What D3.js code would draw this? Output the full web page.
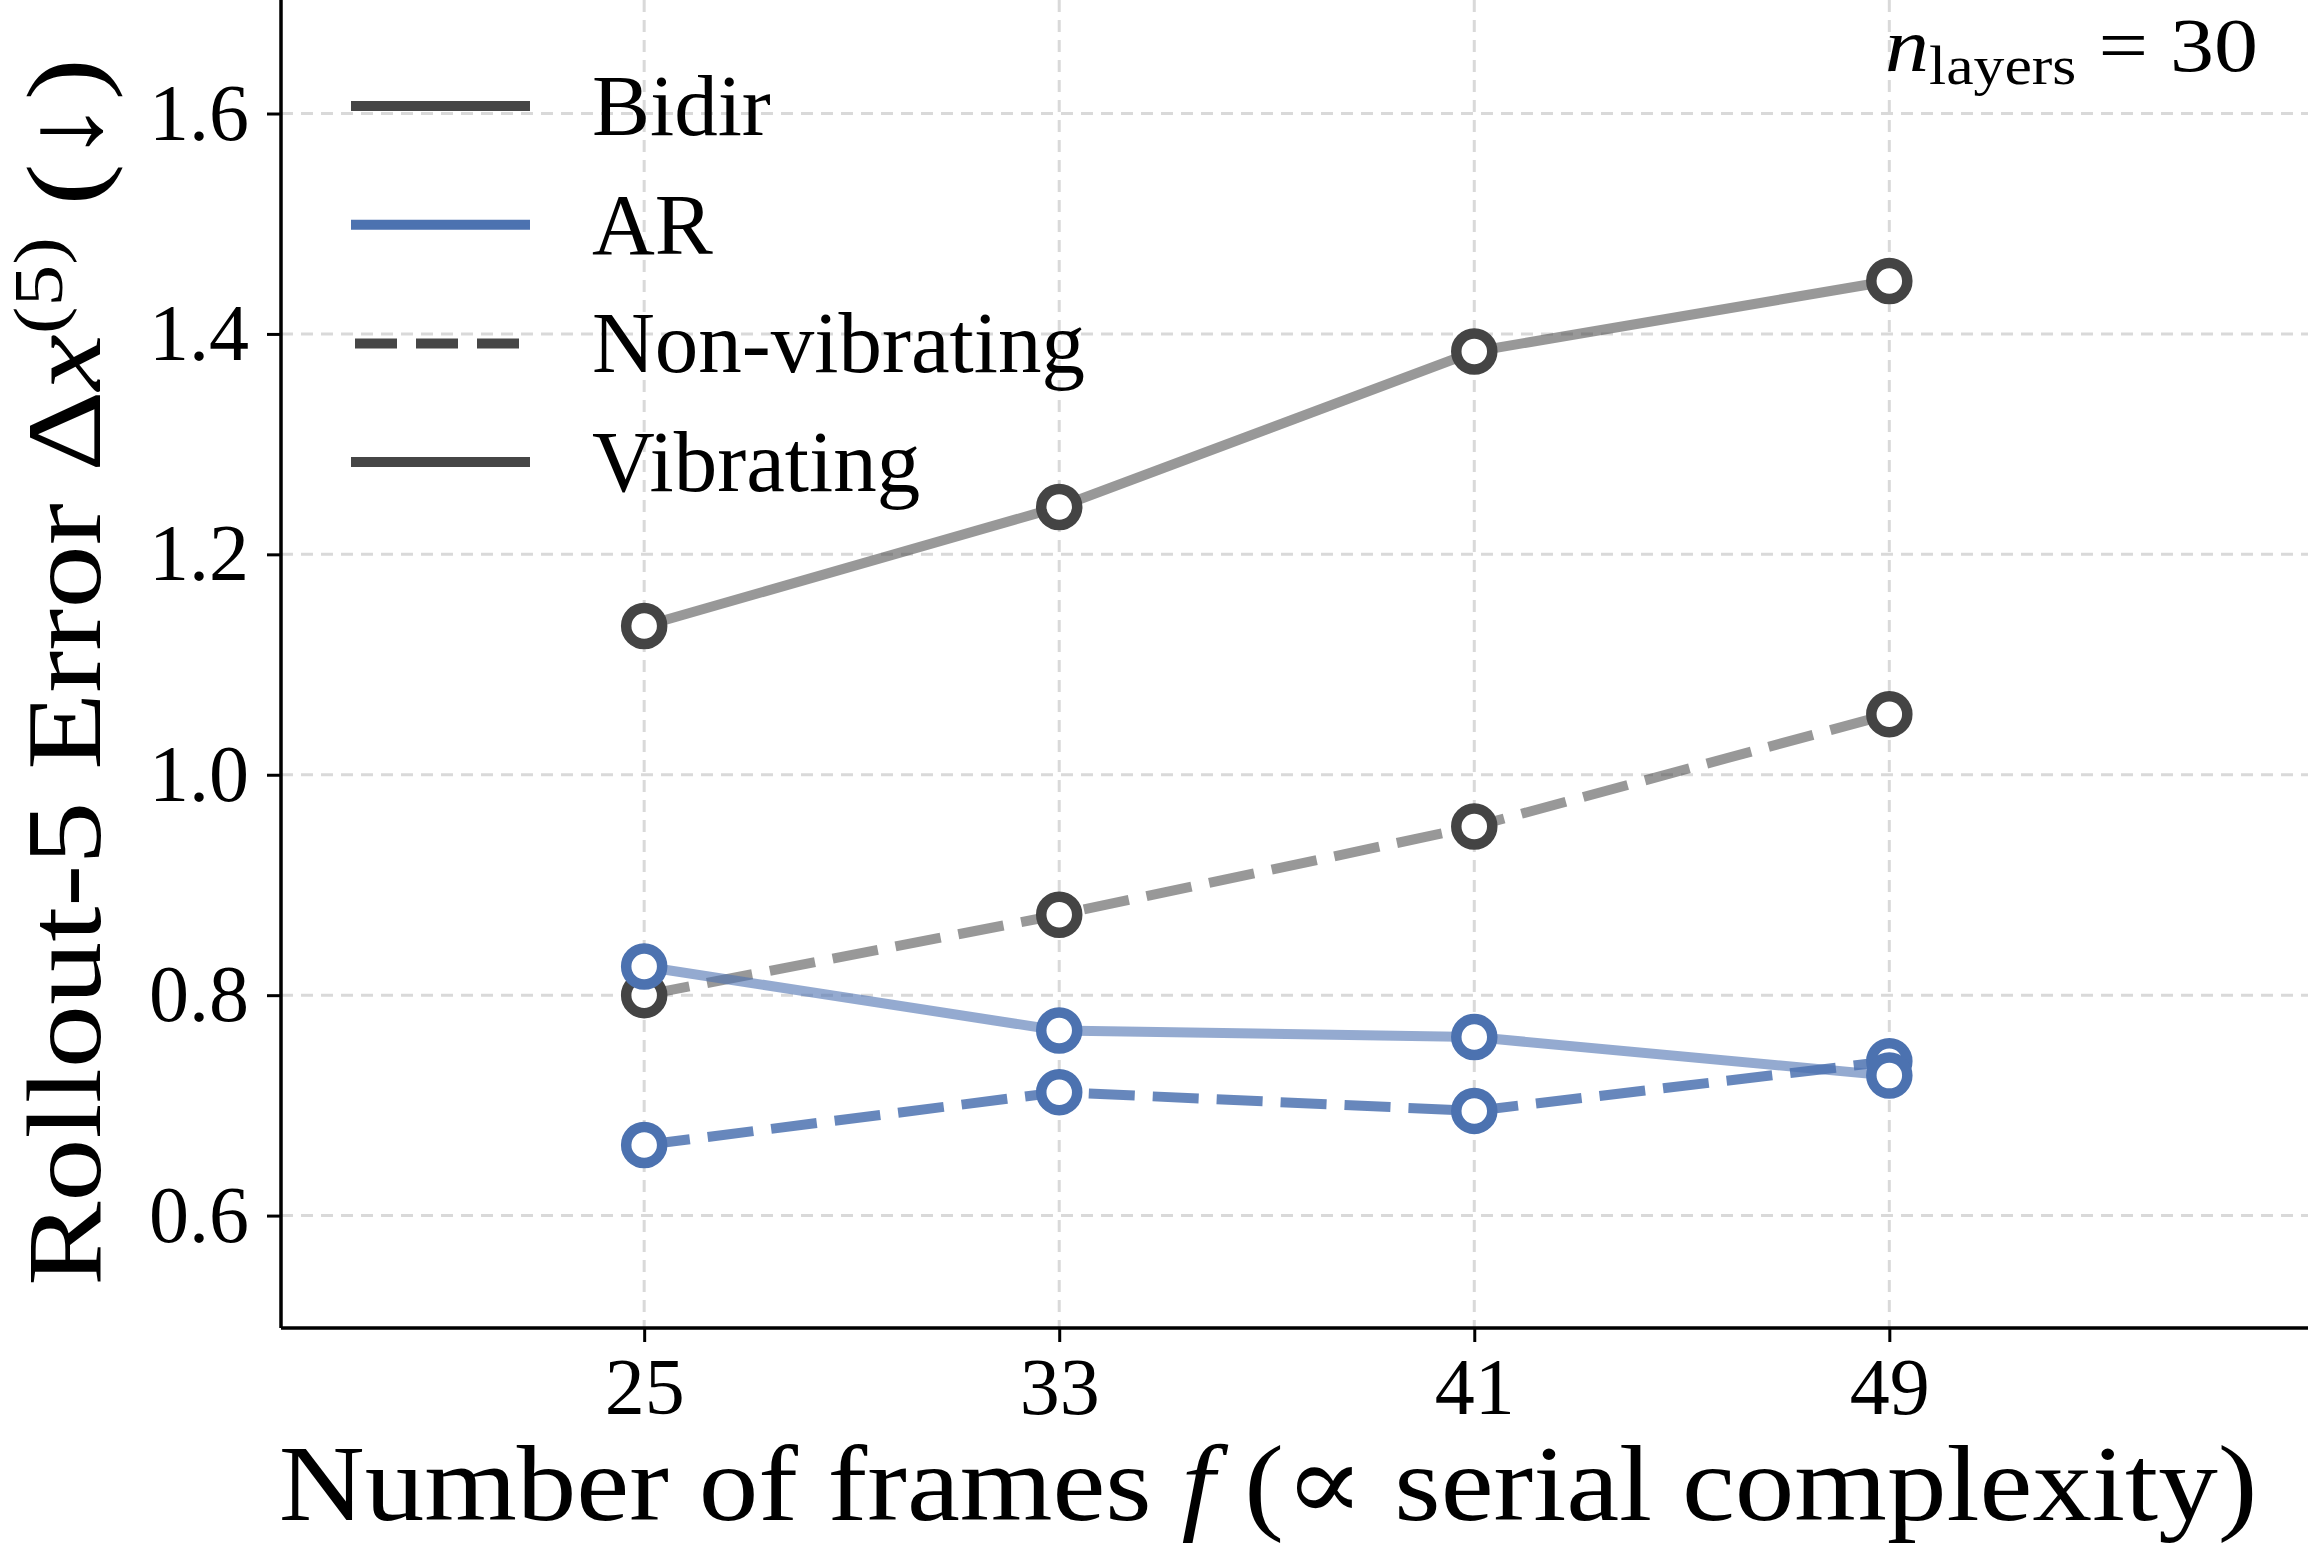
<!DOCTYPE html>
<html>
<head>
<meta charset="utf-8">
<script src="https://cdn.jsdelivr.net/npm/d3@7"></script>
<style>
  html, body { margin: 0; padding: 0; background: #fff; }
  svg { display: block; }
  text { font-family: "Liberation Serif", "DejaVu Serif", serif; fill: #000; }
</style>
</head>
<body>
<div id="chart"></div>
<script>
// Rollout-5 error vs number of frames (n_layers = 30)

const frames = [25, 33, 41, 49];
const bidirVibrating = [1.135, 1.243, 1.384, 1.448];
const bidirNonVibrating = [0.800, 0.873, 0.953, 1.055];
const arVibrating = [0.826, 0.768, 0.762, 0.727];
const arNonVibrating = [0.664, 0.712, 0.695, 0.740];

const yTicks = [0.6, 0.8, 1.0, 1.2, 1.4, 1.6];
const xTicks = [25, 33, 41, 49];
const legendLabels = ['Bidir', 'AR', 'Non-vibrating', 'Vibrating'];

const width = 2308;
const height = 1555;
const margin = { left: 281, top: 0, right: 0, bottom: 227 };

const svg = d3.select('#chart').append('svg')
    .attr('width', width)
    .attr('height', height);

const x = d3.scaleLinear()
    .domain([18, 57.07])
    .range([margin.left, width - margin.right]);

const y = d3.scaleLinear()
    .domain([0.498, 1.703])
    .range([height - margin.bottom, margin.top]);

const plotBottom = height - margin.bottom;

// grid
const grid = svg.append('g').attr('class', 'grid');
grid.selectAll('.hgrid')
    .data(yTicks)
    .enter()
    .append('line')
    .attr('x1', margin.left)
    .attr('x2', width)
    .attr('y1', d => y(d))
    .attr('y2', d => y(d))
    .attr('stroke', '#d9d9d9')
    .attr('stroke-width', 3)
    .attr('stroke-dasharray', '12,8');

grid.selectAll('.vgrid')
    .data(xTicks)
    .enter()
    .append('line')
    .attr('x1', d => x(d))
    .attr('x2', d => x(d))
    .attr('y1', 0)
    .attr('y2', plotBottom)
    .attr('stroke', '#d9d9d9')
    .attr('stroke-width', 3)
    .attr('stroke-dasharray', '12,8');

// series, drawn in matplotlib order
const series = [
    { values: bidirNonVibrating, color: '#444444', opacity: 0.55, dashed: true },
    { values: bidirVibrating, color: '#444444', opacity: 0.55, dashed: false },
    { values: arNonVibrating, color: '#4c72b0', opacity: 0.85, dashed: true },
    { values: arVibrating, color: '#4c72b0', opacity: 0.6, dashed: false }
];

const line = d3.line()
    .x((d, i) => x(frames[i]))
    .y(d => y(d));

series.forEach(s => {
    const g = svg.append('g');
    g.append('path')
        .attr('d', line(s.values))
        .attr('fill', 'none')
        .attr('stroke', s.color)
        .attr('stroke-opacity', s.opacity)
        .attr('stroke-width', 10)
        .attr('stroke-dasharray', s.dashed ? '46,18' : null);

    g.selectAll('circle')
        .data(s.values)
        .enter()
        .append('circle')
        .attr('cx', (d, i) => x(frames[i]))
        .attr('cy', d => y(d))
        .attr('r', 18)
        .attr('fill', '#fff')
        .attr('stroke', s.color)
        .attr('stroke-width', 10.5);
});

// axes
const xAxis = svg.append('g')
    .attr('transform', `translate(0, ${plotBottom})`)
    .call(d3.axisBottom(x).tickValues(xTicks).tickSize(14).tickPadding(0).tickFormat(d3.format('d')));

const yAxis = svg.append('g')
    .attr('transform', `translate(${margin.left}, 0)`)
    .call(d3.axisLeft(y).tickValues(yTicks).tickSize(14).tickPadding(18).tickFormat(d3.format('.1f')));

[xAxis, yAxis].forEach(ax => {
    ax.select('.domain').attr('stroke', '#000').attr('stroke-width', 3.5);
    ax.selectAll('.tick line').attr('stroke', '#000').attr('stroke-width', 3);
    ax.selectAll('.tick text')
        .attr('fill', '#000')
        .style('font-family', '"Liberation Serif", "DejaVu Serif", serif')
        .attr('font-size', 80);
});
xAxis.select('.domain').attr('d', `M${margin.left},0H${width}`);
yAxis.select('.domain').attr('d', `M0,${plotBottom}V0`);
xAxis.selectAll('.tick text').attr('y', 86).attr('dy', null);

// stretch a text horizontally (about its anchor) to match a target width
function fitWidth(textSel, target) {
    const w = textSel.node().getBBox().width;
    textSel.attr('transform', `scale(${target / w}, 1)`);
}

// x label
const xLabel = svg.append('g')
    .attr('transform', 'translate(1268, 1520)')
    .append('text')
    .attr('text-anchor', 'middle')
    .attr('font-size', 108);
xLabel.append('tspan').text('Number of frames ');
xLabel.append('tspan').attr('font-style', 'italic').text('f');
xLabel.append('tspan').text(' (\u221D serial complexity)');
fitWidth(xLabel, 1979);

// y label
const yLabel = svg.append('g')
    .attr('transform', 'translate(100, 672) rotate(-90)')
    .append('text')
    .attr('text-anchor', 'middle')
    .attr('font-size', 106);
yLabel.append('tspan').text('Rollout-5 Error \u0394');
yLabel.append('tspan').attr('font-style', 'italic').text('x');
yLabel.append('tspan').attr('font-size', 70).attr('dy', -38).text('(5)');
yLabel.append('tspan').attr('dy', 38).text(' (\u2193)');
fitWidth(yLabel, 1228);

// annotation
const note = svg.append('g')
    .attr('transform', 'translate(2258, 71)')
    .append('text')
    .attr('text-anchor', 'end')
    .attr('font-size', 77);
note.append('tspan').attr('font-style', 'italic').text('n');
note.append('tspan').attr('font-size', 54).attr('dy', 13).text('layers');
note.append('tspan').attr('dy', -13).text(' = 30');
fitWidth(note, 373);

// legend
const legendStyles = [
    { color: '#464646', dashed: false },
    { color: '#4c72b0', dashed: false },
    { color: '#464646', dashed: true },
    { color: '#464646', dashed: false }
];

const legend = svg.append('g')
    .attr('class', 'legend')
    .attr('transform', 'translate(351, 106)');

const legendItems = legend.selectAll('.legend-item')
    .data(legendLabels)
    .enter()
    .append('g')
    .attr('class', 'legend-item')
    .attr('transform', (d, i) => `translate(0, ${i * 118.7})`);

legendItems.append('line')
    .attr('x1', 0)
    .attr('x2', 179)
    .attr('y1', 0)
    .attr('y2', 0)
    .attr('stroke', (d, i) => legendStyles[i].color)
    .attr('stroke-width', 10)
    .attr('stroke-dasharray', (d, i) => legendStyles[i].dashed ? '42,19' : null)
    .attr('stroke-dashoffset', (d, i) => legendStyles[i].dashed ? -4 : null);

legendItems.append('text')
    .attr('x', 241)
    .attr('y', 29)
    .attr('font-size', 87)
    .text(d => d);
</script>
</body>
</html>
